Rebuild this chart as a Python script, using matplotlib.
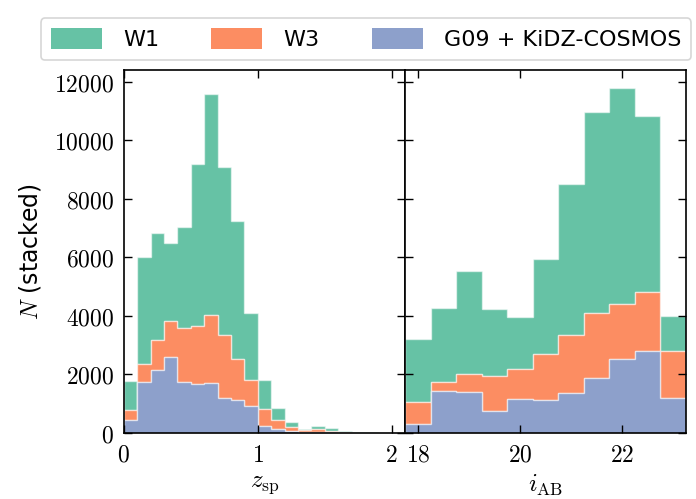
import matplotlib
matplotlib.use("Agg")
import matplotlib.pyplot as plt
import numpy as np
from matplotlib.ticker import FuncFormatter

plt.rcParams['mathtext.fontset'] = 'cm'
plt.rcParams['font.family'] = ['DejaVu Sans']

# ---- data ----
series_names = ["W1", "W3", "G09 + KiDZ-COSMOS"]
colors = ["#66c2a5", "#fc8d62", "#8da0cb"]

z_edges = [0.0, 0.1, 0.2, 0.3, 0.4, 0.5, 0.6, 0.7, 0.8, 0.9, 1.0,
           1.1, 1.2, 1.3, 1.4, 1.5, 1.6, 1.7, 1.8, 1.9, 2.0]
z_w1 = [980, 3636, 3647, 2667, 3430, 5516, 7521, 5721, 4695, 2268,
        968, 410, 193, 46, 103, 92, 23, 12, 10, 8]
z_w3 = [365, 638, 1026, 1230, 1846, 2005, 2325, 2153, 1413, 911,
        593, 308, 126, 57, 79, 45, 23, 6, 6, 4]
z_g09 = [433, 1732, 2165, 2610, 1755, 1664, 1721, 1197, 1128, 912,
         239, 148, 68, 34, 46, 23, 11, 5, 4, 3]

i_edges = [17.75, 18.25, 18.75, 19.25, 19.75, 20.25, 20.75,
           21.25, 21.75, 22.25, 22.75, 23.25]
i_w1 = [2154, 2519, 3521, 2314, 1766, 3248, 5163, 6871, 7396, 5983, 1184]
i_w3 = [775, 308, 593, 1196, 1026, 1561, 1994, 2234, 1880, 2017, 1618]
i_g09 = [296, 1447, 1413, 741, 1162, 1128, 1356, 1869, 2519, 2815, 1197]

z_ticks = [0, 1, 2]
i_ticks = [18, 20, 22]
y_ticks = [0, 2000, 4000, 6000, 8000, 10000, 12000]

# ---- figure ----
fig = plt.figure(figsize=(6.96, 4.99), dpi=100)
bottom, height = 0.1323, 0.7274
axL = fig.add_axes([0.178, bottom, 0.404, height])
axR = fig.add_axes([0.582, bottom, 0.4036, height])

def stacked(ax, edges, w1, w3, g09):
    edges = np.asarray(edges)
    centers = 0.5 * (edges[:-1] + edges[1:])
    data = [centers, centers, centers]
    weights = [g09, w3, w1]
    ax.hist(data, bins=edges, weights=weights, stacked=True,
            histtype='stepfilled',
            color=[colors[2], colors[1], colors[0]],
            edgecolor=(1, 1, 1, 0.55), linewidth=1.0,
            label=[series_names[2], series_names[1], series_names[0]])

stacked(axL, z_edges, z_w1, z_w3, z_g09)
stacked(axR, i_edges, i_w1, i_w3, i_g09)

fmt = FuncFormatter(lambda v, p: r'$%d$' % int(round(v)))
for ax in (axL, axR):
    ax.set_ylim(0, 12400)
    ax.set_yticks(y_ticks)
    ax.tick_params(direction='in', top=True, right=True, length=5.5,
                   width=1.0, labelsize=17, pad=7)
    ax.xaxis.set_major_formatter(fmt)
    ax.yaxis.set_major_formatter(fmt)
    for s in ax.spines.values():
        s.set_linewidth(1.2)

axL.set_xlim(0, 2.1)
axL.set_xticks(z_ticks)
axR.set_xlim(17.75, 23.25)
axR.set_xticks(i_ticks)
axR.tick_params(labelleft=False)

axL.set_xlabel(r'$z_{\rm sp}$', fontsize=18, labelpad=4)
axR.set_xlabel(r'$i_{\rm AB}$', fontsize=18, labelpad=4)
axL.set_ylabel(r'$N$ (stacked)', fontsize=17, labelpad=8)

handles, labels = axL.get_legend_handles_labels()
lookup = dict(zip(labels, handles))
leg = fig.legend([lookup[n] for n in series_names], series_names,
                 loc='lower center', bbox_to_anchor=(0.526, 0.857), ncol=3,
                 fontsize=16, frameon=True, fancybox=True,
                 handlelength=2.3, handleheight=1.05, columnspacing=2.35,
                 borderpad=0.45, handletextpad=0.95)
leg.get_frame().set_edgecolor('#cccccc')
leg.get_frame().set_linewidth(1.2)
for h in leg.legend_handles:
    h.set_edgecolor('none')

fig.savefig("out.png", dpi=100)
